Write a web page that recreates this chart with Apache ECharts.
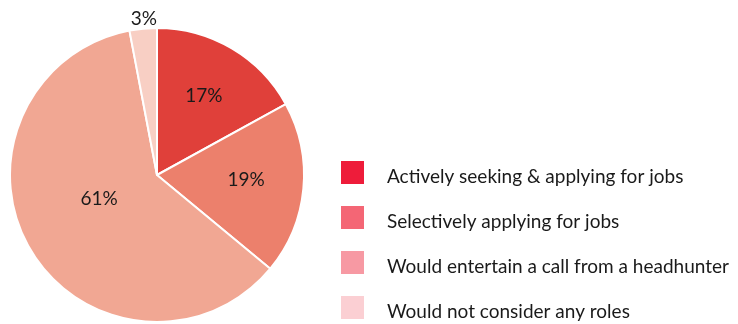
<!DOCTYPE html>
<html>
<head>
<meta charset="utf-8">
<script src="https://cdn.jsdelivr.net/npm/echarts@6/dist/echarts.min.js"></script>
<style>
  html, body { margin: 0; padding: 0; background: #ffffff; }
  #chart { width: 738px; height: 324px; }
</style>
</head>
<body>
<div id="chart"></div>
<script>
// Job-search attitude shares (percent)
const categories = [
  'Actively seeking & applying for jobs',
  'Selectively applying for jobs',
  'Would entertain a call from a headhunter',
  'Would not consider any roles'
];
const shares = [17, 19, 61, 3];

// Slice fills and the matching legend swatches
const sliceColors = ['#e0403a', '#ec806c', '#f1a793', '#f8cfc4'];
const legendColors = ['#ee1c3a', '#f46675', '#f799a3', '#fbcfd3'];

// Nudges for the percentage labels relative to the slice mid-point
const labelNudges = [[8, -13], [13, -2], [8, -15], [-6, -80]];

const FONT = 'Lato';

const chart = echarts.init(document.getElementById('chart'), null, { renderer: 'canvas' });

chart.setOption({
  backgroundColor: '#ffffff',
  animation: false,
  legend: {
    orient: 'vertical',
    left: 341,
    top: 161,
    padding: 0,
    itemWidth: 23,
    itemHeight: 23,
    itemGap: 19.5,
    icon: 'rect',
    selectedMode: false,
    formatter: function (name) { return '{t|' + name + '}'; },
    textStyle: {
      fontFamily: FONT,
      fontSize: 19,
      color: '#1a1a1a',
      rich: {
        t: {
          fontFamily: FONT,
          fontSize: 19,
          color: '#1a1a1a',
          padding: [9, 0, 0, 18]
        }
      }
    },
    data: categories.map((name, i) => ({
      name: name,
      itemStyle: { color: legendColors[i], borderWidth: 0 }
    }))
  },
  series: [{
    type: 'pie',
    center: [157, 175],
    radius: [0, 147],
    startAngle: 90,
    clockwise: true,
    silent: true,
    itemStyle: { borderColor: '#ffffff', borderWidth: 2 },
    label: {
      show: true,
      position: 'inside',
      formatter: '{c}%',
      fontFamily: FONT,
      fontSize: 19,
      color: '#1a1a1a'
    },
    labelLine: { show: false },
    labelLayout: function (params) {
      const n = labelNudges[params.dataIndex];
      return { dx: n[0], dy: n[1] };
    },
    data: categories.map((name, i) => ({
      name: name,
      value: shares[i],
      itemStyle: { color: sliceColors[i] }
    }))
  }]
});
</script>
</body>
</html>
